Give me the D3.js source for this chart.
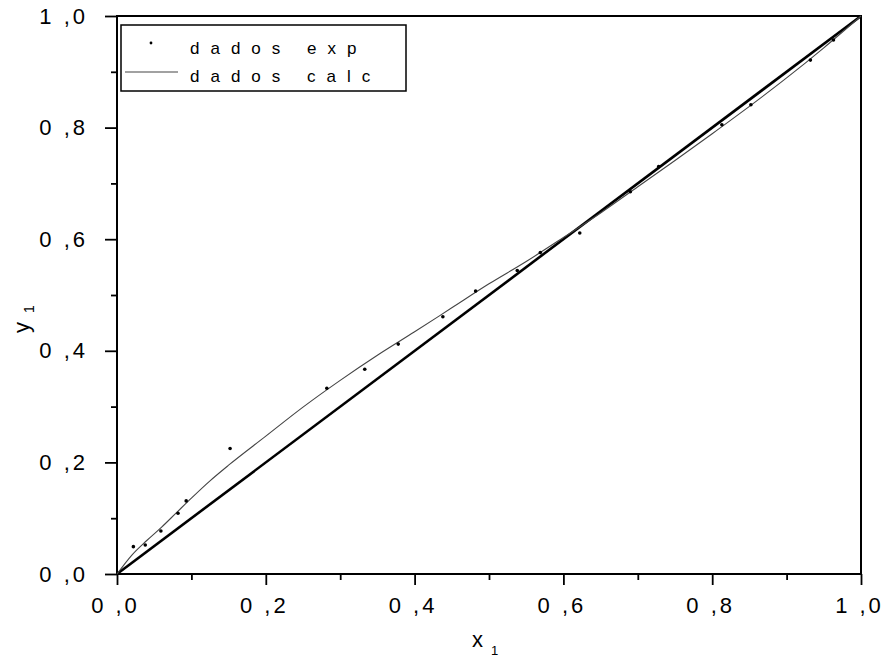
<!DOCTYPE html>
<html>
<head>
<meta charset="utf-8">
<script src="https://cdn.jsdelivr.net/npm/d3@7"></script>
<style>
  html, body { margin: 0; padding: 0; background: #fff; }
  svg { display: block; font-family: "Liberation Sans", Arial, sans-serif; }
</style>
</head>
<body>
<svg id="chart" width="883" height="661"></svg>
<script>
// ---- data ----
const calcX = [0, 0.02, 0.04, 0.06, 0.08, 0.10, 0.125, 0.15, 0.20, 0.25, 0.30, 0.35, 0.40, 0.45, 0.50, 0.55, 0.60, 0.65, 0.70, 0.75, 0.80, 0.85, 0.90, 0.95, 1.0];
const calcY = [0, 0.034, 0.060, 0.084, 0.110, 0.136, 0.167, 0.195, 0.247, 0.299, 0.347, 0.392, 0.434, 0.477, 0.520, 0.560, 0.603, 0.647, 0.694, 0.741, 0.789, 0.838, 0.889, 0.943, 1.0];
const expX = [0.022, 0.038, 0.059, 0.082, 0.093, 0.152, 0.282, 0.333, 0.378, 0.438, 0.482, 0.538, 0.569, 0.622, 0.690, 0.728, 0.813, 0.852, 0.932, 0.963];
const expY = [0.049, 0.052, 0.077, 0.109, 0.131, 0.225, 0.333, 0.367, 0.412, 0.461, 0.507, 0.544, 0.576, 0.611, 0.685, 0.730, 0.805, 0.841, 0.921, 0.957];
const diagX = [0, 1];
const diagY = [0, 1];
const majorTicks = [0, 0.2, 0.4, 0.6, 0.8, 1.0];
const minorTicks = [0.1, 0.3, 0.5, 0.7, 0.9];
const tickLabels = ["0 ,0", "0 ,2", "0 ,4", "0 ,6", "0 ,8", "1 ,0"];
const legendLabels = ["dados exp", "dados calc"];

// ---- layout ----
const svg = d3.select("#chart");
const mLeft = 117, mRight = 861, mTop = 16, mBottom = 574;
const x = d3.scaleLinear().domain([0, 1]).range([mLeft, mRight]);
const y = d3.scaleLinear().domain([0, 1]).range([mBottom, mTop]);

const fmt = d => tickLabels[majorTicks.findIndex(t => Math.abs(t - d) < 1e-9)];

// bottom axis
const xAxis = svg.append("g").attr("transform", `translate(0,${mBottom})`)
  .call(d3.axisBottom(x).tickValues(majorTicks).tickSize(11).tickFormat(fmt).tickPadding(12));
const xMinor = svg.append("g").attr("transform", `translate(0,${mBottom})`)
  .call(d3.axisBottom(x).tickValues(minorTicks).tickSize(6).tickFormat(""));
// left axis
const yAxis = svg.append("g").attr("transform", `translate(${mLeft},0)`)
  .call(d3.axisLeft(y).tickValues(majorTicks).tickSize(12).tickFormat(fmt).tickPadding(17));
const yMinor = svg.append("g").attr("transform", `translate(${mLeft},0)`)
  .call(d3.axisLeft(y).tickValues(minorTicks).tickSize(6).tickFormat(""));

[xAxis, xMinor, yAxis, yMinor].forEach(g => {
  g.select(".domain").remove();
  g.selectAll(".tick line").attr("stroke", "#000").attr("stroke-width", 1.8);
  g.selectAll(".tick text").attr("fill", "#000").attr("font-size", 22)
    .attr("letter-spacing", "3px")
    .attr("font-family", "'Liberation Sans', Arial, sans-serif");
});
xAxis.selectAll(".tick text").attr("dx", "-2");

// frame
svg.append("rect").attr("x", mLeft).attr("y", mTop)
  .attr("width", mRight - mLeft).attr("height", mBottom - mTop)
  .attr("fill", "none").attr("stroke", "#000").attr("stroke-width", 2);

// diagonal thick line
const diag = diagX.map((d, i) => [d, diagY[i]]);
svg.append("path").datum(diag)
  .attr("d", d3.line().x(d => x(d[0])).y(d => y(d[1])))
  .attr("fill", "none").attr("stroke", "#000").attr("stroke-width", 2.6);

// calc curve
const calc = calcX.map((d, i) => [d, calcY[i]]);
svg.append("path").datum(calc)
  .attr("d", d3.line().curve(d3.curveMonotoneX).x(d => x(d[0])).y(d => y(d[1])))
  .attr("fill", "none").attr("stroke", "#444").attr("stroke-width", 1.1);

// experimental points
const exp = expX.map((d, i) => [d, expY[i]]);
svg.append("g").selectAll("circle").data(exp).join("circle")
  .attr("cx", d => x(d[0])).attr("cy", d => y(d[1])).attr("r", 1.8).attr("fill", "#000");

// axis titles
const xt = svg.append("text").attr("x", 472).attr("y", 647)
  .attr("font-size", 22).attr("fill", "#000");
xt.append("tspan").text("x");
xt.append("tspan").attr("dx", 8).attr("dy", 8).attr("font-size", 13).text("1");

const yt = svg.append("text").attr("transform", "translate(29,333) rotate(-90)")
  .attr("font-size", 22).attr("fill", "#000");
yt.append("tspan").text("y");
yt.append("tspan").attr("dx", 9).attr("dy", 5).attr("font-size", 14).text("1");

// legend
const lg = svg.append("g");
lg.append("rect").attr("x", 121).attr("y", 25).attr("width", 285).attr("height", 66)
  .attr("fill", "#fff").attr("stroke", "#000").attr("stroke-width", 1.5);
lg.append("circle").attr("cx", 151).attr("cy", 43).attr("r", 1.4).attr("fill", "#000");
lg.append("line").attr("x1", 125).attr("x2", 178).attr("y1", 72).attr("y2", 72)
  .attr("stroke", "#444").attr("stroke-width", 1.1);
lg.selectAll("text.lab").data(legendLabels).join("text").attr("class", "lab")
  .attr("x", 190).attr("y", (d, i) => 54 + i * 28)
  .attr("font-size", 17).attr("letter-spacing", "11px").attr("fill", "#000")
  .text(d => d);
</script>
</body>
</html>
